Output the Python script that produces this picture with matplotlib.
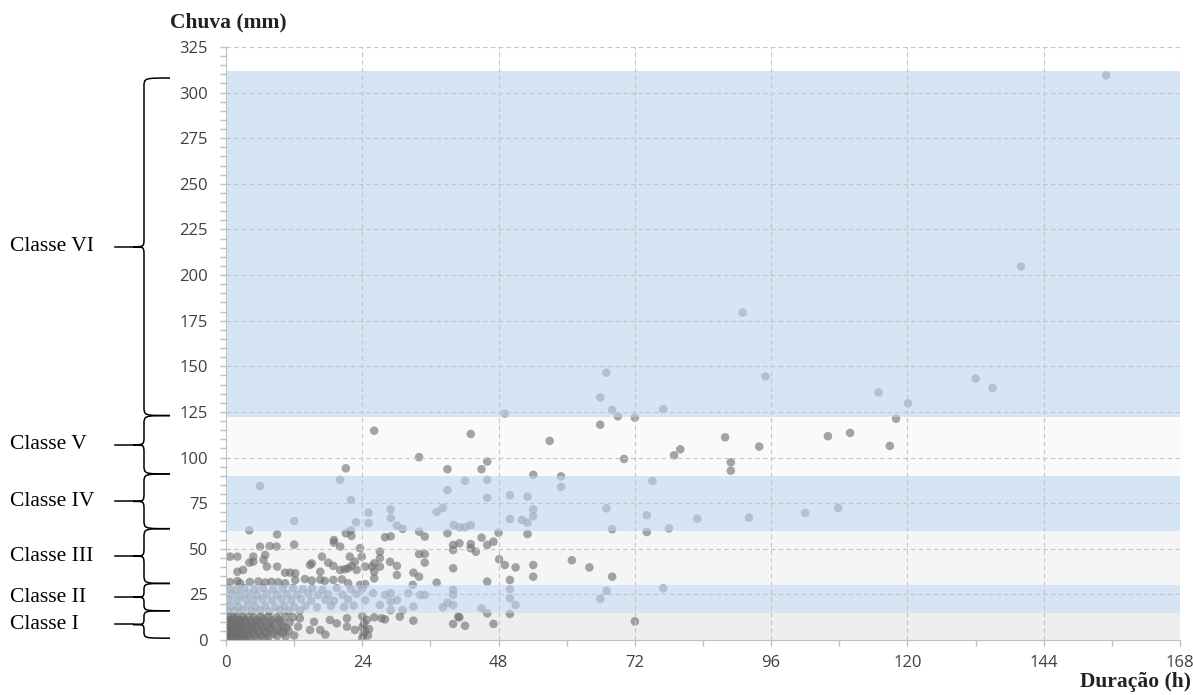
import matplotlib.pyplot as plt
from matplotlib.path import Path
from matplotlib.patches import PathPatch
from matplotlib.ticker import MultipleLocator

# classes de chuva (mm) e faixas
classes = ['Classe I', 'Classe II', 'Classe III', 'Classe IV', 'Classe V', 'Classe VI']
limites = [0, 15, 30, 60, 90, 122, 312]
faixa_azul = [False, True, False, True, False, True]
cores_faixa = ['#eeeeee', '#bbd4ee', '#f5f5f5', '#bbd4ee', '#fafafa', '#bbd4ee']

x_ticks = [0, 24, 48, 72, 96, 120, 144, 168]
y_ticks = [0, 25, 50, 75, 100, 125, 150, 175, 200, 225, 250, 275, 300, 325]

# eventos (duracao em h, chuva em mm)
pts_altos = [
    (155.0, 309.4), (140.0, 204.7), (132.0, 143.3), (135.0, 138.0), (114.9, 135.6),
    (120.1, 129.7), (118.0, 121.3), (106.0, 111.7), (109.9, 113.5), (116.9, 106.4),
    (102.0, 69.6), (107.8, 72.4), (91.0, 179.4), (67.0, 146.5), (95.0, 144.4),
    (65.9, 133.0), (68.0, 126.1), (69.0, 122.6), (72.0, 121.9), (77.0, 126.5),
    (65.9, 118.0), (57.0, 109.1), (70.1, 99.2), (78.9, 101.2), (80.0, 104.5),
    (87.9, 111.1), (88.9, 97.4), (88.9, 92.8), (93.9, 106.0), (54.1, 90.5),
    (59.0, 89.7), (59.0, 83.9), (75.1, 87.2), (53.1, 78.6), (54.1, 71.6),
    (54.1, 67.8), (52.1, 65.8), (53.1, 64.3), (53.1, 58.1), (67.0, 72.2),
    (68.0, 60.7), (74.1, 68.4), (74.1, 59.2), (78.0, 61.2), (83.0, 66.5),
    (92.1, 67.1), (54.1, 41.1), (54.1, 34.7), (60.9, 43.7), (64.0, 39.8),
    (68.0, 34.7), (67.0, 26.9), (65.9, 22.5), (77.0, 28.3), (72.0, 10.2),
]

pts_medios = [
    (26.1, 114.7), (21.1, 94.1), (20.1, 87.7), (6.0, 84.4), (22.0, 76.7),
    (25.1, 69.8), (25.1, 64.0), (22.9, 64.5), (12.0, 65.2), (4.1, 60.1),
    (22.0, 60.1), (21.1, 58.5), (9.0, 57.9), (22.1, 57.0), (19.0, 54.8),
    (49.1, 124.1), (43.1, 112.9), (34.0, 100.2), (46.0, 97.8), (45.0, 93.6),
    (39.0, 93.6), (42.1, 87.2), (46.0, 87.7), (39.0, 82.1), (46.0, 78.0),
    (50.0, 79.3), (29.0, 71.6), (29.0, 66.9), (38.2, 72.4), (37.1, 70.2),
    (30.1, 62.7), (31.1, 60.9), (40.1, 63.0), (41.1, 61.8), (42.1, 61.8),
    (43.1, 63.0), (34.0, 59.4), (39.0, 58.5), (50.0, 66.3), (48.0, 58.8),
    (28.0, 56.3), (29.0, 56.8), (35.0, 56.7), (45.0, 56.1),
    (40.0, 52.1), (41.1, 53.0), (40.0, 49.3), (43.1, 52.6), (43.1, 50.3),
    (44.0, 48.4), (46.0, 52.1), (47.1, 53.9), (27.1, 48.4), (27.1, 44.8),
    (26.1, 42.0), (27.1, 40.2), (26.1, 37.4), (26.1, 33.8), (30.1, 40.6),
    (30.1, 35.6), (34.0, 47.1), (35.0, 47.1), (35.0, 42.4), (33.0, 36.9),
    (34.0, 34.7), (37.1, 31.4), (40.0, 39.3), (46.0, 32.0), (48.1, 44.2),
    (49.1, 41.1), (51.0, 39.8), (50.0, 32.9), (50.0, 27.8), (50.0, 22.9),
    (51.0, 19.2), (50.0, 14.3), (32.9, 30.2),
    (25.9, 25.6), (28.0, 24.7), (29.0, 25.6), (29.0, 21.0), (30.1, 21.9),
    (27.1, 19.2), (29.0, 16.4), (31.1, 16.4), (33.0, 18.3), (32.1, 25.6),
    (34.2, 24.7), (35.0, 24.7), (38.2, 17.9), (39.0, 20.4), (40.0, 19.2),
    (40.0, 27.4), (40.0, 24.7), (45.0, 17.4), (46.0, 14.6), (26.1, 12.4),
    (28.0, 11.3), (33.0, 10.6), (41.1, 12.4), (40.0, 8.8), (42.1, 7.8),
    (47.1, 8.8), (27.4, 11.9), (30.6, 12.8), (40.9, 12.8),
]

pts_curtos = [
    (6.0, 51.2), (7.7, 51.5), (12.0, 52.3), (19.0, 53.4), (20.1, 51.2),
    (2.0, 45.7), (4.1, 42.4), (4.8, 42.9), (6.6, 43.9), (7.2, 40.2),
    (6.9, 46.6), (2.0, 37.4), (3.0, 38.4), (9.0, 40.2), (10.4, 36.9),
    (11.3, 36.9), (12.2, 36.6), (14.8, 41.1), (16.6, 37.4), (18.0, 42.4),
    (18.9, 40.6), (20.1, 38.4), (20.9, 38.8), (22.1, 40.6), (22.7, 42.9),
    (23.0, 38.4), (24.5, 40.2), (25.7, 40.2), (0.7, 45.7), (4.8, 45.7),
    (8.9, 51.2), (15.1, 42.0), (16.9, 45.7), (21.8, 45.7), (21.5, 39.3),
    (23.9, 45.7), (23.6, 50.3), (28.9, 42.9), (2.5, 31.1),
    (12.2, 32.9), (13.9, 33.4), (15.1, 32.6), (16.6, 33.1), (17.4, 32.4),
    (18.9, 32.9), (20.4, 33.2), (21.5, 31.1), (23.6, 30.2), (24.5, 30.6),
    (0.7, 31.8), (2.0, 32.3), (4.2, 31.8), (5.7, 32.1), (6.9, 31.5),
    (8.0, 31.9), (9.2, 31.6), (10.4, 31.1),
]

# faixa II (15-30 mm), bem densa ate ~24 h
pts_faixa2 = [
    (0.5, 28.2), (1.8, 27.6), (3.2, 28.4), (5.0, 27.9), (6.5, 28.5), (8.3, 27.7),
    (10.0, 28.1), (11.8, 28.6), (13.5, 27.8), (15.2, 28.3), (17.0, 27.5),
    (19.5, 28.4), (22.0, 27.9), (24.0, 28.2),
    (1.0, 25.1), (2.5, 24.6), (4.0, 25.4), (5.5, 24.8), (7.2, 25.3), (9.0, 24.7),
    (10.8, 25.2), (12.5, 24.9), (14.5, 25.5), (16.2, 24.6), (18.0, 25.0),
    (20.5, 24.8), (23.0, 25.3),
    (0.4, 22.1), (1.9, 21.6), (3.4, 22.4), (4.8, 21.8), (6.4, 22.3), (8.1, 21.7),
    (9.8, 22.2), (11.5, 21.9), (13.2, 22.5), (15.0, 21.6), (17.5, 22.0),
    (19.0, 21.5), (21.5, 22.3), (24.5, 21.8),
    (0.8, 18.6), (2.2, 18.2), (3.8, 18.9), (5.2, 18.4), (6.9, 18.7), (8.7, 18.1),
    (10.3, 18.8), (12.0, 18.3), (14.0, 18.6), (16.0, 18.0), (18.5, 18.7),
    (20.8, 18.2), (22.5, 18.9),
    (0.3, 16.1), (1.5, 15.8), (2.9, 16.4), (4.5, 15.9), (6.0, 16.2), (7.6, 15.7),
    (9.5, 16.3), (11.0, 15.9), (13.0, 16.1),
]

# faixa I (0-15 mm): nuvem escura junto da origem
pts_faixa1 = [
    (0.2, 0.5), (0.6, 0.8), (1.0, 0.4), (1.5, 0.7), (2.0, 0.5), (2.6, 0.9),
    (3.3, 0.6), (4.2, 0.8), (5.5, 0.5), (7.0, 0.9),
    (0.3, 2.1), (0.8, 1.8), (1.3, 2.3), (1.9, 2.0), (2.5, 1.7), (3.2, 2.2),
    (4.0, 1.9), (5.0, 2.4), (6.2, 2.0), (7.5, 1.8), (9.0, 2.2), (10.5, 2.0),
    (0.2, 3.6), (0.7, 3.3), (1.2, 3.8), (1.8, 3.4), (2.4, 3.7), (3.1, 3.3),
    (3.9, 3.6), (4.8, 3.9), (5.9, 3.4), (7.1, 3.7), (8.4, 3.5), (10.0, 3.8),
    (0.4, 5.1), (0.9, 4.8), (1.5, 5.3), (2.2, 4.9), (3.0, 5.2), (3.8, 4.8),
    (4.7, 5.3), (5.7, 5.0), (6.8, 4.8), (8.0, 5.2), (9.5, 4.9), (11.0, 5.1),
    (0.3, 6.6), (0.8, 6.3), (1.4, 6.8), (2.0, 6.4), (2.8, 6.7), (3.6, 6.3),
    (4.5, 6.6), (5.5, 6.9), (6.6, 6.4), (7.8, 6.7), (9.2, 6.3), (10.6, 6.6),
    (0.2, 8.1), (0.7, 7.8), (1.3, 8.3), (2.1, 7.9), (2.9, 8.2), (3.8, 7.8),
    (4.8, 8.1), (5.9, 8.4), (7.1, 7.9), (8.5, 8.2), (10.0, 8.0),
    (0.4, 9.6), (1.0, 9.3), (1.7, 9.8), (2.5, 9.4), (3.4, 9.7), (4.4, 9.3),
    (5.5, 9.6), (6.7, 9.9), (8.0, 9.4), (9.6, 9.7), (11.2, 9.5),
    (0.3, 11.1), (0.9, 10.8), (1.6, 11.3), (2.4, 10.9), (3.3, 11.2), (4.3, 10.8),
    (5.4, 11.1), (6.6, 11.4), (7.9, 10.9), (9.3, 11.2),
    (0.5, 12.6), (1.2, 12.3), (2.0, 12.8), (2.9, 12.4), (3.9, 12.7), (5.0, 12.3),
    (6.2, 12.6), (7.5, 12.9), (8.9, 12.4), (10.4, 12.7),
    (13.0, 11.9), (14.8, 5.5), (16.6, 5.5), (12.7, 7.3), (18.3, 11.0),
    (19.5, 9.1), (21.3, 11.9), (22.7, 5.5), (21.3, 7.3), (12.0, 2.5),
    (17.5, 3.0), (15.5, 10.0), (11.8, 12.5),
    (24.0, 1.0), (24.2, 3.0), (24.5, 5.0), (24.0, 7.0), (24.3, 9.0),
    (24.8, 11.0), (24.0, 13.0), (25.0, 2.5), (25.2, 6.0),
]

pontos = pts_altos + pts_medios + pts_curtos + pts_faixa2 + pts_faixa1
duracao = [p[0] for p in pontos]
chuva = [p[1] for p in pontos]

W, H = 1193, 695
fig = plt.figure(figsize=(W / 100, H / 100), dpi=100)
ax = fig.add_axes([226 / W, 1 - 640 / H, 954 / W, 593 / H])
ax.set_xlim(0, 168)
ax.set_ylim(0, 325)

# faixas das classes (azuis por cima dos pontos, cinzas por baixo)
for i in range(len(classes)):
    if faixa_azul[i]:
        ax.axhspan(limites[i], limites[i + 1], color=cores_faixa[i], alpha=0.6, lw=0, zorder=2.2)
    else:
        ax.axhspan(limites[i], limites[i + 1], color=cores_faixa[i], lw=0, zorder=0.5)

ax.scatter(duracao, chuva, s=38, color='#6f6f6f', alpha=0.62, edgecolors='none', zorder=2)

ax.set_xticks(x_ticks)
ax.set_yticks(y_ticks)
ax.xaxis.set_minor_locator(MultipleLocator(12))
ax.yaxis.set_minor_locator(MultipleLocator(5))
ax.grid(True, which='major', ls=(0, (4, 3)), color='#c4c4c4', lw=0.8)
ax.set_axisbelow(False)
ax.tick_params(which='both', direction='out', length=4, width=1, color='#bfbfbf')
ax.tick_params(axis='both', labelsize=12, labelcolor='#404040')
ax.tick_params(axis='y', pad=9)
ax.tick_params(axis='x', pad=7)
for lab in ax.get_xticklabels() + ax.get_yticklabels():
    lab.set_family('Open Sans')
for s in ['top', 'right']:
    ax.spines[s].set_visible(False)
for s in ['left', 'bottom']:
    ax.spines[s].set_color('#bfbfbf')

fig.text(170 / W, 1 - 22 / H, 'Chuva (mm)', family='Liberation Serif', weight='bold',
         fontsize=15.5, ha='left', va='center', color='#222222')
fig.text(1191 / W, 1 - 682 / H, 'Duração (h)', family='Liberation Serif', weight='bold',
         fontsize=15.5, ha='right', va='center', color='#222222')


def chave(y0, y1, label):
    # chave "{" desenhada em pixels, convertida para fracao da figura
    p0 = ax.transData.transform((0, y0))[1]
    p1 = ax.transData.transform((0, y1))[1]
    pm = (p0 + p1) / 2
    r = min(9, (p1 - p0) / 4)
    xe, xl, xt = 170, 144, 133
    verts = [(xe, p0), (xl, p0), (xl, p0), (xl, p0 + r),
             (xl, pm - r),
             (xl, pm), (xl, pm), (xt, pm),
             (xl, pm), (xl, pm), (xl, pm + r),
             (xl, p1 - r),
             (xl, p1), (xl, p1), (xe, p1)]
    codes = [Path.MOVETO, Path.CURVE4, Path.CURVE4, Path.CURVE4,
             Path.LINETO,
             Path.CURVE4, Path.CURVE4, Path.CURVE4,
             Path.CURVE4, Path.CURVE4, Path.CURVE4,
             Path.LINETO,
             Path.CURVE4, Path.CURVE4, Path.CURVE4]
    verts = [(vx / W, vy / H) for vx, vy in verts]
    fig.add_artist(PathPatch(Path(verts, codes), fc='none', ec='black', lw=1.1,
                             transform=fig.transFigure))
    fig.add_artist(plt.Line2D([115 / W, xt / W], [pm / H, pm / H], color='black', lw=1.1,
                              transform=fig.transFigure))
    fig.text(10 / W, pm / H, label, family='Liberation Serif', fontsize=15.5,
             ha='left', va='center', color='black')


for i in range(len(classes)):
    chave(limites[i] + 1, min(limites[i + 1] + 1, 308), classes[i])

fig.savefig('out.png', dpi=100)
